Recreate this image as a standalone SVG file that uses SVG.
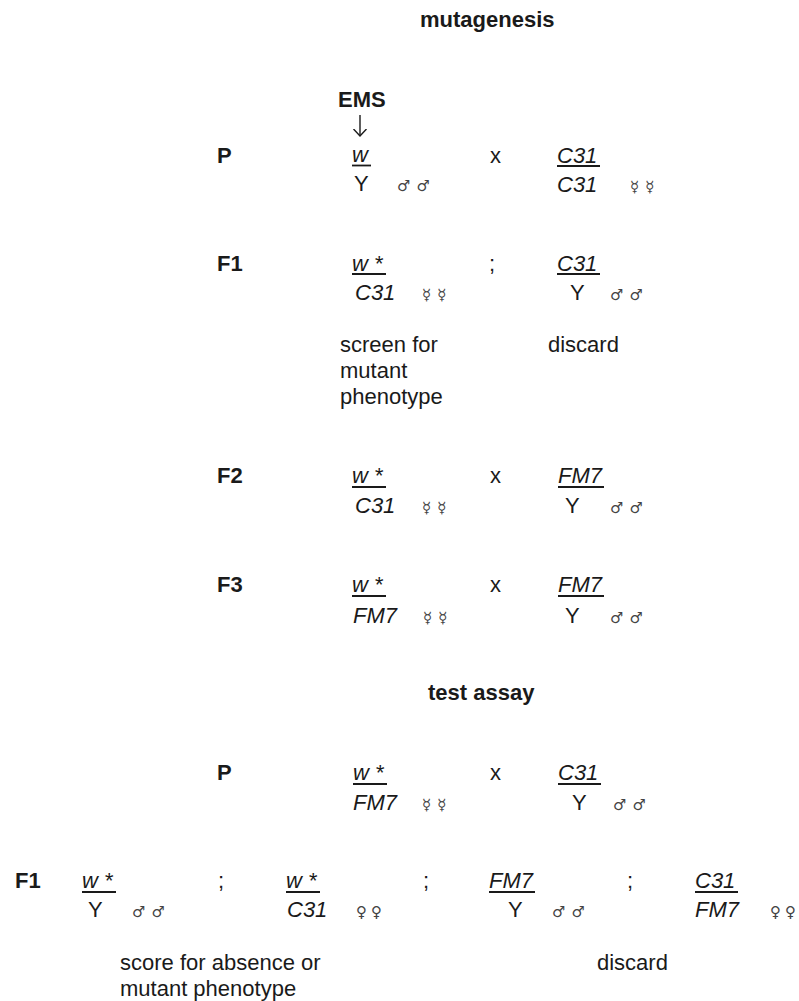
<svg xmlns="http://www.w3.org/2000/svg" width="799" height="1001" viewBox="0 0 799 1001">
  <style>
    .t { font-family: "Liberation Sans", Arial, sans-serif; font-size: 22px; fill: #1a1a1a; }
    .b { font-weight: bold; }
    .i { font-style: italic; }
    .sx { font-family: "DejaVu Sans", sans-serif; font-size: 15px; fill: #444; letter-spacing: 6px; }
    .fe { letter-spacing: 4px; }
    .ul { stroke: #1a1a1a; stroke-width: 1.8; }
    .arrow { fill: none; stroke: #1a1a1a; stroke-width: 1.4; }
  </style>
  <defs>
    <!-- open V head; tip lies on the +x axis so orient="auto" follows the line -->
    <marker id="vhead" viewBox="0 0 8 14" refX="7.5" refY="7" markerUnits="userSpaceOnUse" markerWidth="8" markerHeight="14" orient="auto">
      <path d="M0.5,0.5 L7.5,7 L0.5,13.5" fill="none" stroke="#1a1a1a" stroke-width="1.4"/>
    </marker>
  </defs>
  <rect width="799" height="1001" fill="#fff"/>

  <!-- section headings -->
  <g id="headings">
    <text class="t b" x="420" y="27">mutagenesis</text>
    <text class="t b" x="428" y="700">test assay</text>
  </g>

  <!-- mutagen treatment label -->
  <g id="ems">
    <text class="t b" x="338" y="107">EMS</text>
  </g>

  <!-- connectors -->
  <g id="connectors">
    <path class="arrow" d="M360,115 V136" marker-end="url(#vhead)"/>
  </g>

  <!-- generation labels -->
  <g id="generation-labels">
    <text class="t b" x="217" y="163">P</text>
    <text class="t b" x="217" y="271">F1</text>
    <text class="t b" x="217" y="483">F2</text>
    <text class="t b" x="217" y="592">F3</text>
    <text class="t b" x="217" y="780">P</text>
    <text class="t b" x="15" y="888">F1</text>
  </g>

  <!-- mutagenesis: P cross -->
  <g id="p-male">
    <text class="t i" x="352" y="162">w</text>
    <line class="ul" x1="352" y1="165.5" x2="371" y2="165.5"/>
    <text class="t" x="354" y="191">Y</text>
    <text class="sx" x="397" y="191">♂♂</text>
  </g>
  <text class="t" x="490" y="163">x</text>
  <g id="p-female">
    <text class="t i" x="557" y="163">C31</text>
    <line class="ul" x1="557" y1="166" x2="600" y2="166"/>
    <text class="t i" x="557" y="192">C31</text>
    <text class="sx" x="630" y="192">☿☿</text>
  </g>

  <!-- F1 progeny -->
  <g id="f1-female">
    <text class="t i" x="352" y="271">w *</text>
    <line class="ul" x1="352" y1="274" x2="386" y2="274"/>
    <text class="t i" x="355" y="300">C31</text>
    <text class="sx" x="422" y="300">☿☿</text>
  </g>
  <text class="t" x="489" y="271">;</text>
  <g id="f1-male">
    <text class="t i" x="557" y="271">C31</text>
    <line class="ul" x1="557" y1="274" x2="600" y2="274"/>
    <text class="t" x="570" y="300">Y</text>
    <text class="sx" x="610" y="300">♂♂</text>
  </g>
  <g id="f1-notes">
    <text class="t" x="340" y="352">screen for</text>
    <text class="t" x="340" y="378">mutant</text>
    <text class="t" x="340" y="404">phenotype</text>
    <text class="t" x="548" y="352">discard</text>
  </g>

  <!-- F2 cross -->
  <g id="f2-female">
    <text class="t i" x="352" y="483">w *</text>
    <line class="ul" x1="352" y1="487" x2="386" y2="487"/>
    <text class="t i" x="355" y="513">C31</text>
    <text class="sx" x="422" y="513">☿☿</text>
  </g>
  <text class="t" x="490" y="483">x</text>
  <g id="f2-male">
    <text class="t i" x="558" y="483">FM7</text>
    <line class="ul" x1="558" y1="487" x2="604" y2="487"/>
    <text class="t" x="565" y="513">Y</text>
    <text class="sx" x="610" y="513">♂♂</text>
  </g>

  <!-- F3 cross -->
  <g id="f3-female">
    <text class="t i" x="352" y="592">w *</text>
    <line class="ul" x1="352" y1="596" x2="386" y2="596"/>
    <text class="t i" x="353" y="623">FM7</text>
    <text class="sx" x="423" y="623">☿☿</text>
  </g>
  <text class="t" x="490" y="592">x</text>
  <g id="f3-male">
    <text class="t i" x="558" y="592">FM7</text>
    <line class="ul" x1="558" y1="596" x2="604" y2="596"/>
    <text class="t" x="565" y="623">Y</text>
    <text class="sx" x="610" y="623">♂♂</text>
  </g>

  <!-- test assay: P cross -->
  <g id="test-female">
    <text class="t i" x="353" y="780">w *</text>
    <line class="ul" x1="353" y1="784" x2="387" y2="784"/>
    <text class="t i" x="353" y="810">FM7</text>
    <text class="sx" x="422" y="810">☿☿</text>
  </g>
  <text class="t" x="490" y="780">x</text>
  <g id="test-male">
    <text class="t i" x="558" y="780">C31</text>
    <line class="ul" x1="558" y1="784" x2="601" y2="784"/>
    <text class="t" x="572" y="810">Y</text>
    <text class="sx" x="613" y="810">♂♂</text>
  </g>

  <!-- test assay: F1 classes -->
  <g id="tf1-wY">
    <text class="t i" x="82" y="888">w *</text>
    <line class="ul" x1="82" y1="892" x2="116" y2="892"/>
    <text class="t" x="88" y="917">Y</text>
    <text class="sx" x="132" y="917">♂♂</text>
  </g>
  <text class="t" x="218" y="888">;</text>
  <g id="tf1-wC31">
    <text class="t i" x="286" y="888">w *</text>
    <line class="ul" x1="286" y1="892" x2="320" y2="892"/>
    <text class="t i" x="287" y="917">C31</text>
    <text class="sx fe" x="356" y="917">♀♀</text>
  </g>
  <text class="t" x="423" y="888">;</text>
  <g id="tf1-FM7Y">
    <text class="t i" x="489" y="888">FM7</text>
    <line class="ul" x1="489" y1="892" x2="535" y2="892"/>
    <text class="t" x="508" y="917">Y</text>
    <text class="sx" x="552" y="917">♂♂</text>
  </g>
  <text class="t" x="627" y="888">;</text>
  <g id="tf1-C31FM7">
    <text class="t i" x="695" y="888">C31</text>
    <line class="ul" x1="695" y1="892" x2="738" y2="892"/>
    <text class="t i" x="695" y="917">FM7</text>
    <text class="sx fe" x="770" y="917">♀♀</text>
  </g>
  <g id="tf1-notes">
    <text class="t" x="120" y="970">score for absence or</text>
    <text class="t" x="120" y="996">mutant phenotype</text>
    <text class="t" x="597" y="970">discard</text>
  </g>
</svg>
